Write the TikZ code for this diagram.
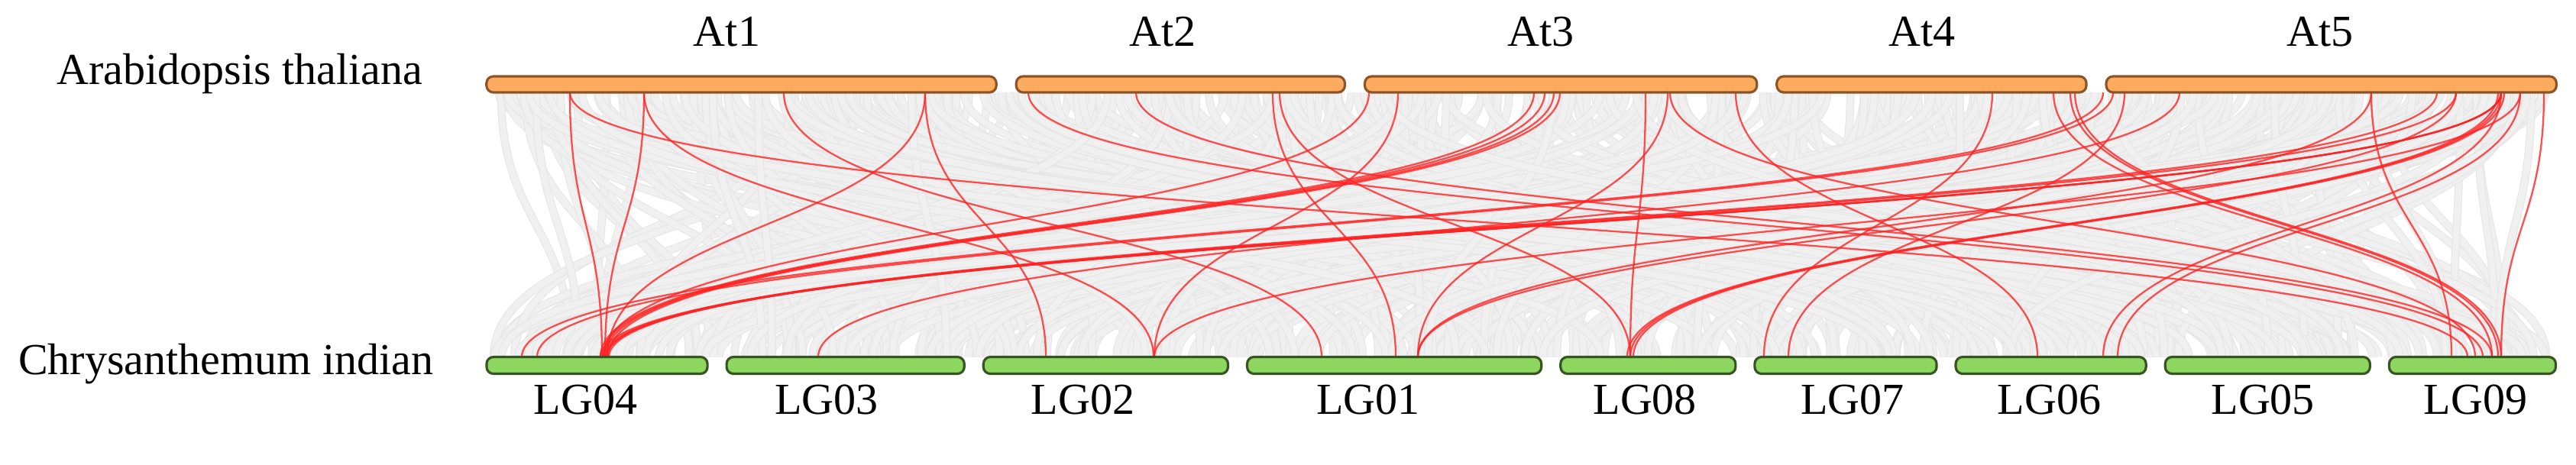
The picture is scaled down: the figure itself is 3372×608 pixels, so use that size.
\documentclass[tikz,border=0pt]{standalone}
\usepackage{fontspec}
\setmainfont{Liberation Serif}
\usepackage{xcolor}
\usepackage{tikz}
\usetikzlibrary{positioning,backgrounds}
\definecolor{atfill}{RGB}{253,172,95}
\definecolor{atedge}{RGB}{140,85,40}
\definecolor{lgfill}{RGB}{141,214,95}
\definecolor{lgedge}{RGB}{55,85,35}
\definecolor{synred}{RGB}{255,35,35}
\tikzstyle{at_bar} = [rectangle, draw=atedge, fill=atfill, line width=0.9pt,
    rounded corners=0.09cm, minimum height=0.21cm, inner sep=0pt, outer sep=0pt]
\tikzstyle{lg_bar} = [rectangle, draw=lgedge, fill=lgfill, line width=0.9pt,
    rounded corners=0.09cm, minimum height=0.22cm, inner sep=0pt, outer sep=0pt]
\tikzstyle{chr_label} = [inner sep=0pt, font=\fontsize{16.5}{19}\selectfont]
\tikzstyle{gray_edge} = [draw=gray!20, line width=3pt]
\tikzstyle{gray_link} = [draw=gray!12, line width=2.4pt]
\tikzstyle{red_link} = [draw=synred, line width=0.65pt, draw opacity=0.8]
% one synteny curve: top x, top bar, bottom x, bottom bar
\newcommand{\synlink}[4]{\draw[red_link] (#1,0 |- #2.south) .. controls +(0,-173) and +(0,173) .. (#3,0 |- #4.north);}

\begin{document}
\begin{tikzpicture}[x=0.01cm, y=0.01cm, node distance=0.26cm]
    \useasboundingbox (0,0) rectangle (3372,608);
    % Arabidopsis chromosomes
    \node [at_bar, minimum width=6.67cm] at (970.5,497.5) (At1) {};
    \node [at_bar, minimum width=4.30cm, right=of At1] (At2) {};
    \node [at_bar, minimum width=5.13cm, right=of At2] (At3) {};
    \node [at_bar, minimum width=4.05cm, right=of At3] (At4) {};
    \node [at_bar, minimum width=5.89cm, right=of At4] (At5) {};
    % Chrysanthemum linkage groups
    \node [lg_bar, minimum width=2.89cm] at (781.5,129.5) (LG04) {};
    \node [lg_bar, minimum width=3.11cm, right=0.25cm of LG04] (LG03) {};
    \node [lg_bar, minimum width=3.20cm, right=0.25cm of LG03] (LG02) {};
    \node [lg_bar, minimum width=3.85cm, right=0.25cm of LG02] (LG01) {};
    \node [lg_bar, minimum width=2.29cm, right=0.25cm of LG01] (LG08) {};
    \node [lg_bar, minimum width=2.38cm, right=0.25cm of LG08] (LG07) {};
    \node [lg_bar, minimum width=2.49cm, right=0.25cm of LG07] (LG06) {};
    \node [lg_bar, minimum width=2.68cm, right=0.25cm of LG06] (LG05) {};
    \node [lg_bar, minimum width=2.18cm, right=0.25cm of LG05] (LG09) {};
    % Labels
    \node [chr_label, anchor=base east] (ath) at ([xshift=-0.83cm]At1.west) {Arabidopsis thaliana};
    \node [chr_label, anchor=base east] (cin) at ([xshift=-0.69cm, yshift=-0.115cm]LG04.west) {Chrysanthemum indian};
    \foreach \c/\dx in {At1/-1.9, At2/-2.3, At3/-2.6, At4/-1.2, At5/-1.5}
        \node [chr_label, above=0.38cm of \c, xshift=\dx mm] (\c-name) {\c};
    \foreach \c/\dx in {LG04/-1.5, LG03/-2.5, LG02/-3.0, LG01/-3.4, LG08/-0.4, LG07/0.9, LG06/-0.2, LG05/-0.6, LG09/0.4}
        \node [chr_label, below=0.14cm of \c, xshift=\dx mm] (\c-name) {\c};

    \begin{pgfonlayer}{background}
    % background collinear blocks
    \pgfmathsetseed{4711}
    \foreach \i in {1,...,560}{
        \pgfmathsetmacro{\xa}{645+2690*rnd}
        \pgfmathsetmacro{\xb}{645+2690*rnd}
        \path [gray_edge] (\xa,0 |- At1.south) .. controls +(0,-173) and +(0,173) .. (\xb,0 |- LG04.north);
        \path [gray_link] (\xa,0 |- At1.south) .. controls +(0,-173) and +(0,173) .. (\xb,0 |- LG04.north);
    }
    % highlighted gene pairs
    \synlink{746}{At1}{788}{LG04}
    \synlink{843}{At1}{792}{LG04}
    \synlink{746}{At1}{3230}{LG09}
    \synlink{843}{At1}{1510}{LG02}
    \synlink{1026}{At1}{1730}{LG01}
    \synlink{1211}{At1}{795}{LG04}
    \synlink{1211}{At1}{1369}{LG02}
    \synlink{1346}{At2}{3250}{LG09}
    \synlink{1487}{At2}{3262}{LG09}
    \synlink{1666}{At2}{1827}{LG01}
    \synlink{1675}{At2}{2134}{LG08}
    \synlink{1792}{At3}{790}{LG04}
    \synlink{1830}{At3}{1511}{LG02}
    \synlink{2008}{At3}{786}{LG04}
    \synlink{2022}{At3}{789}{LG04}
    \synlink{2034}{At3}{792}{LG04}
    \synlink{2042}{At3}{796}{LG04}
    \synlink{2154}{At3}{2134}{LG08}
    \synlink{2183}{At3}{1856}{LG01}
    \synlink{2186}{At3}{3240}{LG09}
    \synlink{2272}{At3}{2667}{LG06}
    \synlink{2608}{At4}{2309}{LG07}
    \synlink{2688}{At4}{3262}{LG09}
    \synlink{2710}{At4}{3270}{LG09}
    \synlink{2716}{At4}{3274}{LG09}
    \synlink{2753}{At5}{683}{LG04}
    \synlink{2766}{At5}{703}{LG04}
    \synlink{2781}{At5}{2341}{LG07}
    \synlink{2853}{At5}{1071}{LG03}
    \synlink{3104}{At5}{1856}{LG01}
    \synlink{3104}{At5}{3209}{LG09}
    \synlink{3190}{At5}{794}{LG04}
    \synlink{3215}{At5}{797}{LG04}
    \synlink{3215}{At5}{1856}{LG01}
    \synlink{3274}{At5}{786}{LG04}
    \synlink{3274}{At5}{790}{LG04}
    \synlink{3274}{At5}{793}{LG04}
    \synlink{3270}{At5}{2130}{LG08}
    \synlink{3274}{At5}{2134}{LG08}
    \synlink{3278}{At5}{2138}{LG08}
    \synlink{3274}{At5}{2753}{LG06}
    \synlink{3299}{At5}{2772}{LG06}
    \synlink{3299}{At5}{1511}{LG02}
    \synlink{3330}{At5}{3274}{LG09}
    \end{pgfonlayer}
\end{tikzpicture}
\end{document}
